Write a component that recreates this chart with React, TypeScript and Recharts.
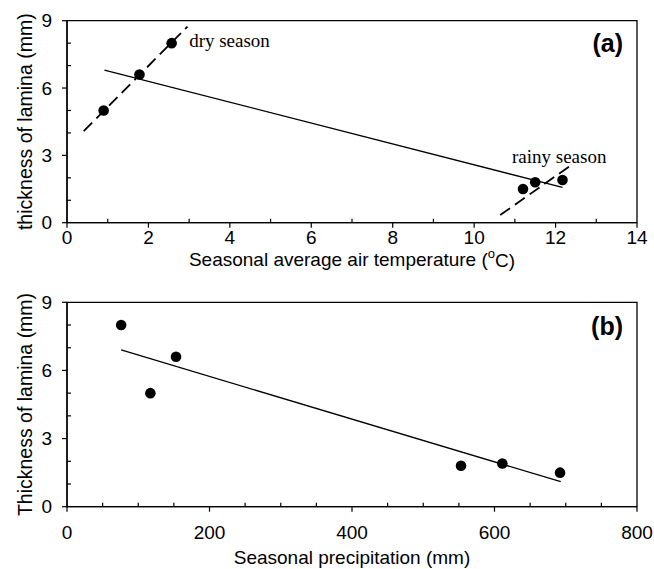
import { ScatterChart, Scatter, XAxis, YAxis, ReferenceLine, ReferenceArea } from 'recharts';

const SANS = '"Liberation Sans", Arial, sans-serif';
const SERIF = '"Liberation Serif", "Times New Roman", serif';

// (a) lamina thickness vs seasonal air temperature
const tempPoints = [
  { x: 0.9, y: 5.0 },
  { x: 1.78, y: 6.6 },
  { x: 2.57, y: 8.0 },
  { x: 11.2, y: 1.5 },
  { x: 11.5, y: 1.8 },
  { x: 12.17, y: 1.9 },
];
const tempFit = [{ x: 0.92, y: 6.8 }, { x: 12.17, y: 1.57 }];
const dryFit = [{ x: 0.41, y: 4.08 }, { x: 2.96, y: 8.74 }];
const rainyFit = [{ x: 10.64, y: 0.34 }, { x: 12.42, y: 2.61 }];
const seasonLabels = [
  { x: 3.0, y: 8.1, text: 'dry season' },
  { x: 10.93, y: 2.93, text: 'rainy season' },
];
const tempTicks = [0, 1, 2, 3, 4, 5, 6, 7, 8, 9, 10, 11, 12, 13, 14];
const tempMajor = [0, 2, 4, 6, 8, 10, 12, 14];

// (b) lamina thickness vs seasonal precipitation
const precipPoints = [
  { x: 76, y: 8.0 },
  { x: 117, y: 5.0 },
  { x: 153, y: 6.6 },
  { x: 553, y: 1.8 },
  { x: 611, y: 1.9 },
  { x: 692, y: 1.5 },
];
const precipFit = [{ x: 76, y: 6.9 }, { x: 693, y: 1.1 }];
const precipTicks = [0, 50, 100, 150, 200, 250, 300, 350, 400, 450, 500, 550, 600, 650, 700, 750, 800];
const precipMajor = [0, 200, 400, 600, 800];

const thickTicks = [0, 1, 2, 3, 4, 5, 6, 7, 8, 9];
const thickMajor = [0, 3, 6, 9];

// major ticks point outward with a label, minor ticks point into the plot
const xTick = (majors: number[], gap: number) => (p: any) => {
  const major = majors.includes(p.payload.value);
  return (
    <g>
      <line x1={p.x} x2={p.x} y1={p.y} y2={major ? p.y + 5 : p.y - 4} stroke="#000" strokeWidth={1.2} />
      {major && (
        <text x={p.x} y={p.y + gap} textAnchor="middle" dominantBaseline="central" fontSize={19} fontFamily={SANS} fill="#000">
          {p.payload.value}
        </text>
      )}
    </g>
  );
};

const yTick = (p: any) => {
  const major = thickMajor.includes(p.payload.value);
  return (
    <g>
      <line x1={p.x} x2={major ? p.x - 5 : p.x + 4} y1={p.y} y2={p.y} stroke="#000" strokeWidth={1.2} />
      {major && (
        <text x={p.x - 15} y={p.y} textAnchor="end" dominantBaseline="central" fontSize={19} fontFamily={SANS} fill="#000">
          {p.payload.value}
        </text>
      )}
    </g>
  );
};

const yTitle = (text: string) => (props: any) => {
  const vb = props.viewBox;
  const cx = vb.x + vb.width - 42;
  const cy = vb.y + vb.height / 2;
  return (
    <text x={cx} y={cy} transform={`rotate(-90 ${cx} ${cy})`} textAnchor="middle" dominantBaseline="central" fontSize={19.5} fontFamily={SANS} fill="#000">
      {text}
    </text>
  );
};

const panelTag = (text: string, dy: number) => (props: any) => {
  const vb = props.viewBox;
  return (
    <text x={vb.x + vb.width - 14} y={vb.y + dy} textAnchor="end" dominantBaseline="central" fontSize={25} fontWeight="bold" fontFamily={SANS} fill="#000">
      {text}
    </text>
  );
};

const seasonText = (p: any) => (
  <text x={p.cx} y={p.cy} dominantBaseline="central" fontSize={19} fontFamily={SERIF} fill="#000">
    {p.payload.text}
  </text>
);

const dot = (p: any) => <circle cx={p.cx} cy={p.cy} r={5.3} fill="#000" />;

const axisLine = { stroke: '#000', strokeWidth: 1.3 };

export default function App() {
  return (
    <div style={{ position: 'absolute', left: 0, top: 0, width: 654, height: 569, background: '#fff' }}>
      <div style={{ position: 'absolute', left: 0, top: 0 }}>
        <ScatterChart width={654} height={280} margin={{ top: 20.7, right: 17, bottom: 17.3, left: 17 }}>
          <XAxis
            type="number"
            dataKey="x"
            domain={[0, 14]}
            ticks={tempTicks}
            interval={0}
            height={40}
            tickSize={0}
            tickMargin={0}
            axisLine={axisLine}
            tick={xTick(tempMajor, 14.5)}
            label={{
              content: (props: any) => {
                const vb = props.viewBox;
                return (
                  <text x={vb.x + vb.width / 2} y={vb.y + 37} textAnchor="middle" dominantBaseline="central" fontSize={19} fontFamily={SANS} fill="#000">
                    Seasonal average air temperature (
                    <tspan fontSize={13} dy={-7}>o</tspan>
                    <tspan dy={7}>C)</tspan>
                  </text>
                );
              },
            }}
          />
          <YAxis
            type="number"
            dataKey="y"
            domain={[0, 9]}
            ticks={thickTicks}
            interval={0}
            width={50}
            tickSize={0}
            tickMargin={0}
            axisLine={axisLine}
            tick={yTick}
            label={{ content: yTitle('thickness of lamina (mm)') }}
          />
          <ReferenceArea x1={0} x2={14} y1={0} y2={9} fill="none" stroke="#000" strokeWidth={1.3} label={{ content: panelTag('(a)', 22) }} />
          <ReferenceLine segment={[tempFit[0], tempFit[1]]} stroke="#000" strokeWidth={1.3} />
          <ReferenceLine segment={[dryFit[0], dryFit[1]]} stroke="#000" strokeWidth={1.8} strokeDasharray="12 6" />
          <ReferenceLine segment={[rainyFit[0], rainyFit[1]]} stroke="#000" strokeWidth={1.8} strokeDasharray="12 6" />
          <Scatter data={tempPoints} isAnimationActive={false} shape={dot} />
          <Scatter data={seasonLabels} isAnimationActive={false} shape={seasonText} />
        </ScatterChart>
      </div>
      <div style={{ position: 'absolute', left: 0, top: 280 }}>
        <ScatterChart width={654} height={289} margin={{ top: 22.3, right: 17, bottom: 2.3, left: 17 }}>
          <XAxis
            type="number"
            dataKey="x"
            domain={[0, 800]}
            ticks={precipTicks}
            interval={0}
            height={60}
            tickSize={0}
            tickMargin={0}
            axisLine={axisLine}
            tick={xTick(precipMajor, 26)}
            label={{
              content: (props: any) => {
                const vb = props.viewBox;
                return (
                  <text x={vb.x + vb.width / 2} y={vb.y + 51} textAnchor="middle" dominantBaseline="central" fontSize={19} fontFamily={SANS} fill="#000">
                    Seasonal precipitation (mm)
                  </text>
                );
              },
            }}
          />
          <YAxis
            type="number"
            dataKey="y"
            domain={[0, 9]}
            ticks={thickTicks}
            interval={0}
            width={50}
            tickSize={0}
            tickMargin={0}
            axisLine={axisLine}
            tick={yTick}
            label={{ content: yTitle('Thickness of lamina (mm)') }}
          />
          <ReferenceArea x1={0} x2={800} y1={0} y2={9} fill="none" stroke="#000" strokeWidth={1.3} label={{ content: panelTag('(b)', 24) }} />
          <ReferenceLine segment={[precipFit[0], precipFit[1]]} stroke="#000" strokeWidth={1.3} />
          <Scatter data={precipPoints} isAnimationActive={false} shape={dot} />
        </ScatterChart>
      </div>
    </div>
  );
}
